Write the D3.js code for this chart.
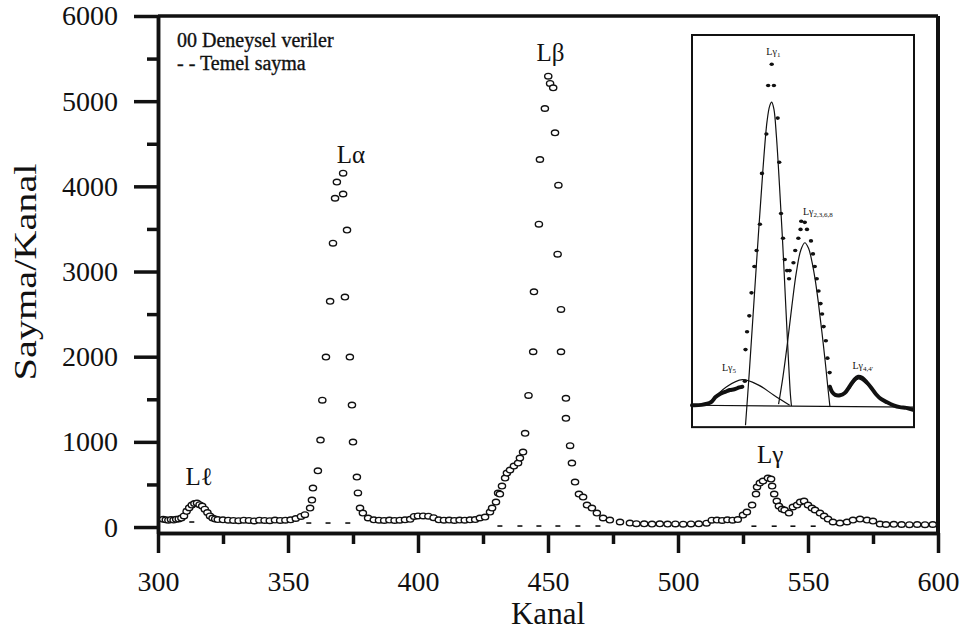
<!DOCTYPE html>
<html>
<head>
<meta charset="utf-8">
<script src="https://cdn.jsdelivr.net/npm/d3@7"></script>
<style>
  body { margin: 0; background: #fff; }
  svg text { font-family: "Liberation Serif", "Times New Roman", serif; fill: #111; }
</style>
</head>
<body>
<div class="chart"></div>
<script>
// deneysel veriler: [kanal, sayma]
var deneysel = [
  [302,90],[303,85],[304,80],[305,88],[306,82],[307,90],[308,95],[309,105],[310,130],[311,185],[312,225],[313,258],[314,275],[315,282],[316,262],[317,246],[318,210],[319,170],[320,130],[321,105],[322,95],[323,88],
  [325,85],[327,80],[329,78],[331,75],[333,80],[335,78],[337,72],[339,80],[341,78],[343,75],[345,82],[347,78],[349,80],[351,85],[353,100],[355,125],[356.5,145],
  [358.5,223],[359.2,317],[359.6,458],[361.5,660],[362.5,1021],[363.2,1490],[364.6,1995],[366.2,2650],[367.3,3333],[368.1,3860],[368.8,4050],[371.2,4155],[371.2,3910],[372.7,3486],[371.9,2700],[373.8,1995],[374.6,1432],[375,998],[376.5,587],[376.9,400],[377.7,223],[378.8,164],[380.8,106],
  [383,85],[385,80],[387,78],[389,82],[391,78],[393,80],[395,85],[397,90],[398.5,125],[400,130],[402,130],[404,128],[406,110],[408,85],[410,80],[412,82],[414,78],[416,82],[418,80],[420,85],[422,88],
  [423.8,106],[425.8,117],[427.7,176],[428.5,223],[430,293],[430.8,399],[431.5,387],[432.3,481],[433.5,575],[434.2,634],[435.4,669],[436.9,716],[438.5,751],[439.2,810],[440.4,880],[441.2,1100],[442.5,1545],[444.3,2058],[444.6,2762],[446.5,3556],[446.9,4315],[448.8,4914],[450.1,5293],[450.8,5208],[452,5157],[452.7,4628],[454,4014],[453.7,3204],[455,2555],[455,2058],[456.9,1511],[456.9,1276],[458.5,955],[459.2,751],[460.4,528],[461.9,387],[463.5,352],[465,258],[466.9,223],[468.8,164],[471.2,106],[473.8,82],[477.7,59],[481.5,47],
  [484,40],[487,38],[490,35],[493,38],[496,35],[499,36],[502,34],[505,36],[508,38],[511,45],[513,80],[515,82],[517,78],[519,85],[521,80],[523,88],
  [525,141],[526.5,176],[528.5,258],[530,387],[530.4,469],[531.5,516],[532.7,540],[534.6,575],[535.8,563],[536.2,481],[537,387],[538,305],[538.8,246],[540,211],[541,200],[542.7,164],[544.2,235],[545.8,258],[547,293],[548.5,305],[550,258],[551.5,223],[552.7,200],[554.6,164],[556.2,129],[557.7,94],[559.6,59],[562.3,47],[565,59],[567.3,82],[570,94],[572.7,82],[575,70],[577.7,35],[580,30],[583,32],[586,30],[589,28],[592,30],[595,28],[598,30]
];

// temel sayma (background)
var temel = [[313,59],[358,47],[365.4,47],[373,47],[431.5,12],[439.2,12],[446.5,12],[453.8,12],[461.5,12],[469.2,12],[529.2,10],[537,10],[544.2,10],[552,10]];

var xTicks = [300, 350, 400, 450, 500, 550, 600];
var xMinor = [325, 375, 425, 475, 525, 575];
var yTicks = [0, 1000, 2000, 3000, 4000, 5000, 6000];
var yMinor = [500, 1500, 2500, 3500, 4500, 5500];

// peak labels [text, kanal, sayma]
var tepeler = [["Lℓ", 315.8, 494], ["Lα", 374.2, 4274], ["Lβ", 451, 5470], ["Lγ", 535.4, 752]];

// inset (Lγ region), relative units 0-100
var insetDots = [
  [35.9,92.1],[34.3,86.4],[36.9,86.4],[38.6,77.6],[33.5,73.3],[39.3,65.7],[31.5,62.7],[40.1,51.9],[30.6,49.0],[41.0,45.2],[29.1,41.9],[41.8,39.5],[28.1,37.6],[42.8,36.5],[44.0,36.5],[43.7,34.3],[26.8,30.5],[25.8,24.3],[24.8,20.0],[24.1,15.2],[23.8,6.7],
  [45.7,38.6],[46.5,41.9],[47.9,45.2],[48.9,47.6],[49.2,49.8],[50.8,49.5],[51.8,47.6],[53.6,44.5],[54.5,41.0],[55.3,37.6],[56.2,34.3],[57.0,31.0],[57.9,27.6],[58.6,24.8],[59.3,21.4],[60.3,17.6],[61.0,12.9],[62.0,9.0]
];
var insetTraceLeft = [[0,0.2],[4.3,0.3],[8.5,1.0],[10.6,2.4],[12.8,3.3],[14.9,3.8],[17.0,4.3],[19.1,4.5],[21.3,5.0],[22.7,5.2]];
var insetTraceRight = [[62.1,5.2],[63.1,3.8],[64.5,3.0],[66.7,2.9],[68.8,3.5],[70.9,5.2],[73.0,7.0],[74.9,7.9],[76.6,7.6],[78.7,6.4],[80.9,4.8],[83.0,3.1],[85.1,1.9],[87.9,1.0],[90.8,0.2],[93.6,-0.3],[96.5,-0.5],[99.3,-1.0]];
var fitG1 = [[24.1,-5.2],[25.8,9.0],[27.7,26.2],[29.8,45.2],[31.9,63.3],[33.8,76.7],[35.0,80.9],[35.9,81.9],[36.9,80.0],[38.0,72.9],[39.4,59.5],[40.9,43.3],[42.3,26.2],[43.4,12.9],[44.3,3.3],[44.8,0]];
var fitG2 = [[39.0,0.5],[41,8],[43,17],[45,27],[47,36],[49,42],[50.8,44],[52.5,42.5],[54,39],[55.5,34],[57,27.5],[58.5,20],[60,12],[61.2,5],[62.1,0]];
var fitG5 = [[8.5,1.2],[15.6,5.2],[22.7,7.1],[29.8,5.7],[36.9,2.9],[44.0,0.2]];
var fitG4 = [[70.9,4.6],[74.9,7.3],[78.7,5.9],[81.5,4.0]];
var insetBase = [[0,0.2],[100,-0.3]];
var insetLabels = [["Lγ", "1", 33.5, 94.5], ["Lγ", "2,3,6,8", 50, 51.5], ["Lγ", "5", 13.5, 9.5], ["Lγ", "4,4'", 72.3, 10]];

var svgWidth = 970;
var svgHeight = 636;
var serif = "'Liberation Serif', 'Times New Roman', serif";

var svg = d3.select(".chart")
    .append("svg")
    .attr("width", svgWidth)
    .attr("height", svgHeight);

// scales
var x = d3.scaleLinear().domain([300, 600]).range([158, 938]);
var y = d3.scaleLinear().domain([-70, 6000]).range([533, 16]);

var ink = "#111";

// x axis
var xAxis = d3.axisBottom(x).tickValues(xTicks).tickSize(20).tickSizeOuter(0).tickPadding(18).tickFormat(d3.format("d"));
var gx = svg.append("g").attr("transform", `translate(0, ${y(-70)})`).call(xAxis);
var gxm = svg.append("g").attr("transform", `translate(0, ${y(-70)})`)
    .call(d3.axisBottom(x).tickValues(xMinor).tickSize(11).tickSizeOuter(0).tickFormat(""));

// y axis
var yAxis = d3.axisLeft(y).tickValues(yTicks).tickSize(24).tickSizeOuter(0).tickPadding(16).tickFormat(d3.format("d"));
var gy = svg.append("g").attr("transform", `translate(${x(300)}, 0)`).call(yAxis);
var gym = svg.append("g").attr("transform", `translate(${x(300)}, 0)`)
    .call(d3.axisLeft(y).tickValues(yMinor).tickSize(11).tickSizeOuter(0).tickFormat(""));

[gx, gxm, gy, gym].forEach(function (g) {
    g.attr("font-family", null);
    g.selectAll("path, line").attr("stroke", ink).attr("stroke-width", 3.5);
    g.selectAll("text")
        .style("font-family", serif)
        .attr("font-size", 28)
        .attr("fill", ink);
});

// frame top/right
svg.append("line").attr("x1", x(300)).attr("x2", x(600)).attr("y1", y(6000)).attr("y2", y(6000))
    .attr("stroke", ink).attr("stroke-width", 3.5);
svg.append("line").attr("x1", x(600)).attr("x2", x(600)).attr("y1", y(6000)).attr("y2", y(-70))
    .attr("stroke", ink).attr("stroke-width", 4);

// axis titles
svg.append("text").attr("x", 548).attr("y", 624).attr("text-anchor", "middle")
    .attr("font-size", 31).text("Kanal");
svg.append("text").attr("transform", "translate(36, 272) rotate(-90) scale(1.3, 1)").attr("text-anchor", "middle")
    .attr("font-size", 31).text("Sayma/Kanal");

// background dashes
svg.append("g").selectAll("line")
    .data(temel)
    .enter()
    .append("line")
    .attr("x1", d => x(d[0]) - 2.5)
    .attr("x2", d => x(d[0]) + 2.5)
    .attr("y1", d => y(d[1]))
    .attr("y2", d => y(d[1]))
    .attr("stroke", ink)
    .attr("stroke-width", 1.6);

// data points
svg.append("g").selectAll("ellipse")
    .data(deneysel)
    .enter()
    .append("ellipse")
    .attr("cx", d => x(d[0]))
    .attr("cy", d => y(d[1]))
    .attr("rx", 3.6)
    .attr("ry", 2.8)
    .attr("fill", "white")
    .attr("stroke", ink)
    .attr("stroke-width", 1.4);

// peak labels
svg.append("g").selectAll("text")
    .data(tepeler)
    .enter()
    .append("text")
    .attr("x", d => x(d[1]))
    .attr("y", d => y(d[2]))
    .attr("text-anchor", "middle")
    .attr("font-size", 25)
    .text(d => d[0]);

// legend
svg.append("text").attr("x", 177).attr("y", 47).attr("font-size", 20).attr("stroke", ink).attr("stroke-width", 0.35).text("00 Deneysel veriler");
svg.append("text").attr("x", 177).attr("y", 70).attr("font-size", 20).attr("stroke", ink).attr("stroke-width", 0.35).text("- - Temel sayma");

// inset
var ix = d3.scaleLinear().domain([0, 100]).range([692, 914]);
var iy = d3.scaleLinear().domain([0, 100]).range([406, 35]);
var inset = svg.append("g");

inset.append("rect")
    .attr("x", ix(0)).attr("y", iy(100))
    .attr("width", ix(100) - ix(0)).attr("height", iy(-5.7) - iy(100))
    .attr("fill", "white").attr("stroke", ink).attr("stroke-width", 2);

var iline = d3.line().x(d => ix(d[0])).y(d => iy(d[1])).curve(d3.curveCatmullRom);

[insetBase, fitG1, fitG2, fitG5, fitG4].forEach(function (c) {
    inset.append("path").attr("d", iline(c)).attr("fill", "none")
        .attr("stroke", ink).attr("stroke-width", 1.2);
});
[insetTraceLeft, insetTraceRight].forEach(function (c) {
    inset.append("path").attr("d", iline(c)).attr("fill", "none")
        .attr("stroke", ink).attr("stroke-width", 4).attr("stroke-linejoin", "round").attr("stroke-linecap", "round");
});

inset.selectAll("ellipse.dot")
    .data(insetDots)
    .enter()
    .append("ellipse")
    .attr("class", "dot")
    .attr("cx", d => ix(d[0]))
    .attr("cy", d => iy(d[1]))
    .attr("rx", 2.2)
    .attr("ry", 1.8)
    .attr("fill", ink);

var il = inset.selectAll("text")
    .data(insetLabels)
    .enter()
    .append("text")
    .attr("x", d => ix(d[2]))
    .attr("y", d => iy(d[3]))
    .attr("font-size", 10);
il.append("tspan").text(d => d[0]);
il.append("tspan").attr("dy", 2).attr("font-size", 7).text(d => d[1]);
</script>
</body>
</html>
